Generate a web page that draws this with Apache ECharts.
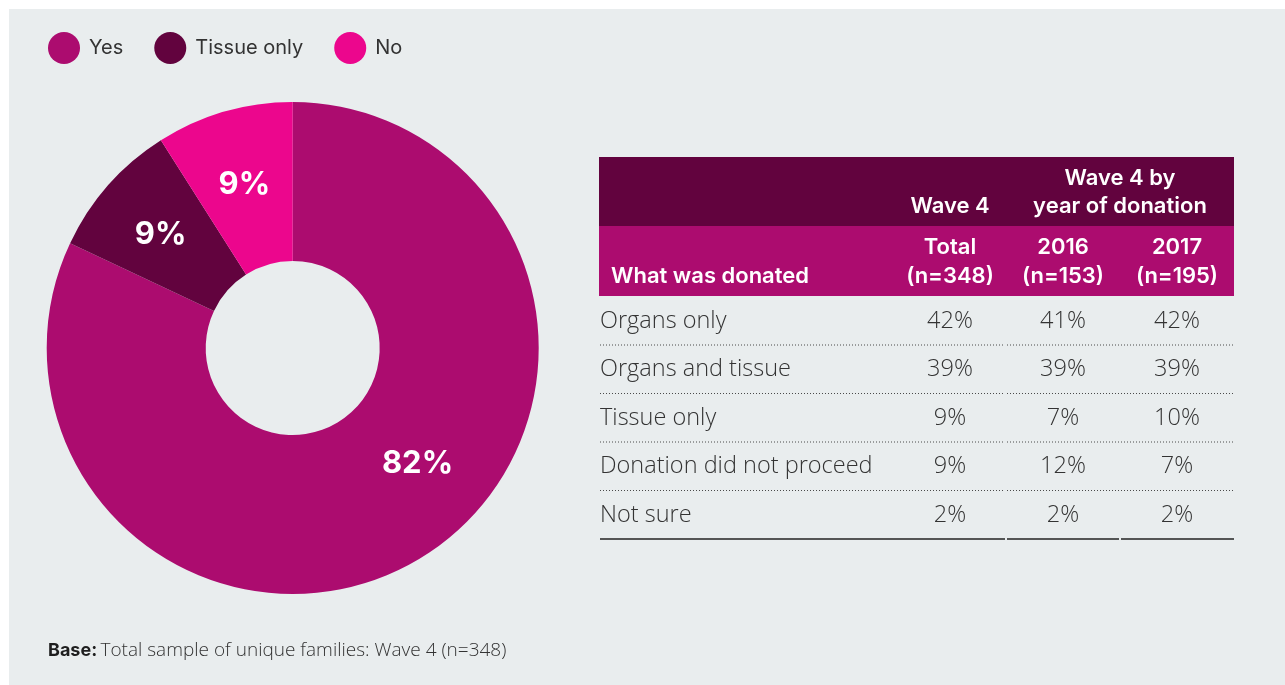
<!DOCTYPE html>
<html>
<head>
<meta charset="utf-8">
<script src="https://cdn.jsdelivr.net/npm/echarts@6/dist/echarts.min.js"></script>
<style>
  html, body { margin: 0; padding: 0; background: #ffffff; }
  #panel { position: absolute; left: 9px; top: 9px; width: 1276px; height: 676px; background: #e9edee; }
  #chart { position: absolute; left: 0; top: 0; width: 1285px; height: 685px; }
</style>
</head>
<body>
<div id="panel"></div>
<div id="chart"></div>
<script>
// Donut: did the family agree to donation
const pieNames = ['Yes', 'Tissue only', 'No'];
const pieValues = [82, 9, 9];
const pieColors = ['#ac0c6f', '#62033e', '#ec068d'];

// Table: what was donated, Wave 4 total and by year of donation
const rowLabels = ['Organs only', 'Organs and tissue', 'Tissue only', 'Donation did not proceed', 'Not sure'];
const totalWave4 = [42, 39, 9, 9, 2];
const year2016 = [41, 39, 7, 12, 2];
const year2017 = [42, 39, 10, 7, 2];
const groupHeads = ['Wave 4', 'Wave 4 by', 'year of donation'];
const columnHeads = [['Total', '(n=348)'], ['2016', '(n=153)'], ['2017', '(n=195)']];
const rowHead = 'What was donated';
const baseLabel = 'Base:';
const baseText = 'Total sample of unique families: Wave 4 (n=348)';

const HEAD_FONT = 'Inter, "Noto Sans", sans-serif';
const BODY_FONT = '"Open Sans", "Noto Sans", sans-serif';

// table geometry
const T = {
  left: 599, right: 1234, top: 157, mid: 226, headBottom: 296,
  labelX: 600, colCenters: [950, 1063, 1177], colBreaks: [1006, 1120],
  rowH: 48.5
};

function txt(text, x, y, font, fill, align) {
  return {
    type: 'text', silent: true,
    style: { text, x, y, font, fill, align: align || 'center', verticalAlign: 'middle',
             textAlign: align || 'center', textVerticalAlign: 'middle' }
  };
}

function rowLine(y, dashed) {
  const segs = [[T.labelX, T.colBreaks[0] - 1], [T.colBreaks[0] + 1, T.colBreaks[1] - 1], [T.colBreaks[1] + 1, T.right]];
  return segs.map(([a, b]) => ({
    type: 'line', silent: true,
    shape: { x1: a, y1: y, x2: b, y2: y },
    style: dashed
      ? { stroke: '#4a4a4a', lineWidth: 1, lineDash: [1, 2] }
      : { stroke: '#222222', lineWidth: 1.5 }
  }));
}

const g = [];
g.push({ type: 'rect', silent: true, shape: { x: T.left, y: T.top, width: T.right - T.left, height: T.mid - T.top }, style: { fill: '#62033e' } });
g.push({ type: 'rect', silent: true, shape: { x: T.left, y: T.mid, width: T.right - T.left, height: T.headBottom - T.mid }, style: { fill: '#ac0c6f' } });

const hf = '600 22px ' + HEAD_FONT;
g.push(txt(groupHeads[0], T.colCenters[0], 206, hf, '#ffffff'));
g.push(txt(groupHeads[1], (T.colCenters[1] + T.colCenters[2]) / 2, 178, hf, '#ffffff'));
g.push(txt(groupHeads[2], (T.colCenters[1] + T.colCenters[2]) / 2, 206, hf, '#ffffff'));
columnHeads.forEach((h, i) => {
  g.push(txt(h[0], T.colCenters[i], 247, hf, '#ffffff'));
  g.push(txt(h[1], T.colCenters[i], 276, hf, '#ffffff'));
});
g.push(txt(rowHead, 611, 276, hf, '#ffffff', 'left'));

const bf = '300 23.5px ' + BODY_FONT;
rowLabels.forEach((lab, r) => {
  const cy = 321 + r * T.rowH;
  g.push(txt(lab, T.labelX, cy, bf, '#333333', 'left'));
  [totalWave4, year2016, year2017].forEach((col, c) => {
    g.push(txt(col[r] + '%', T.colCenters[c], cy, bf, '#333333'));
  });
  const ly = cy + 24;
  rowLine(ly, r < rowLabels.length - 1).forEach(e => g.push(e));
});

g.push({
  type: 'text', silent: true,
  style: {
    text: '{b|' + baseLabel + '} {n|' + baseText + '}',
    x: 48, y: 651, verticalAlign: 'middle', textVerticalAlign: 'middle',
    rich: {
      b: { font: '700 18px ' + HEAD_FONT, fill: '#1e1e1e' },
      n: { font: '300 19px ' + BODY_FONT, fill: '#333333' }
    }
  }
});

const chart = echarts.init(document.getElementById('chart'), null, { renderer: 'canvas' });
chart.setOption({
  animation: false,
  backgroundColor: 'transparent',
  color: pieColors,
  legend: {
    left: 43, top: 27,
    icon: 'circle',
    itemWidth: 40, itemHeight: 32, itemGap: 31,
    selectedMode: false,
    textStyle: { fontFamily: HEAD_FONT, fontSize: 20, color: '#333333' },
    data: pieNames
  },
  series: [{
    type: 'pie',
    center: [292.7, 348],
    radius: [87, 246],
    startAngle: 90,
    clockwise: true,
    avoidLabelOverlap: false,
    emphasis: { disabled: true },
    itemStyle: { borderWidth: 0 },
    label: {
      show: true, position: 'inside',
      formatter: p => p.value + '%',
      color: '#ffffff', fontFamily: HEAD_FONT, fontWeight: 700, fontSize: 31
    },
    labelLine: { show: false },
    data: pieNames.map((n, i) => {
      const d = { name: n, value: pieValues[i] };
      if (i === 0) d.label = { offset: [34, -27] };
      else d.label = { offset: i === 1 ? [-5, -1] : [-1, -1] };
      return d;
    })
  }],
  graphic: { elements: g }
});
</script>
</body>
</html>
